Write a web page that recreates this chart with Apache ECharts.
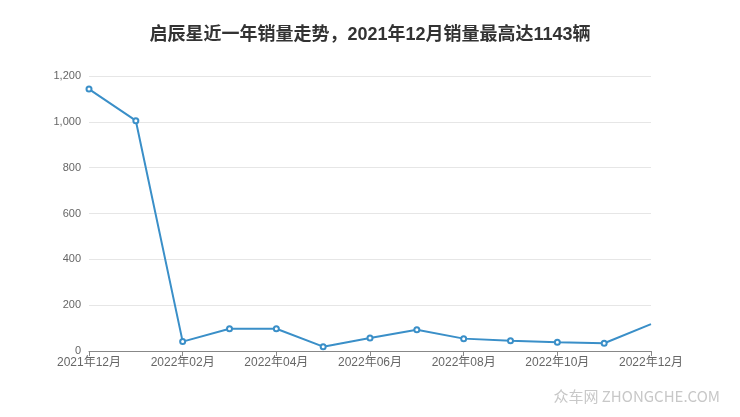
<!DOCTYPE html>
<html><head><meta charset="utf-8">
<script src="https://cdn.jsdelivr.net/npm/echarts@6/dist/echarts.min.js"></script>
<style>html,body{margin:0;padding:0;background:#fff}#c{width:740px;height:417px}</style>
</head><body><div id="c"></div>
<script>
const titleText = '启辰星近一年销量走势，2021年12月销量最高达1143辆';
const months = ['2021年12月','2022年01月','2022年02月','2022年03月','2022年04月','2022年05月','2022年06月','2022年07月','2022年08月','2022年09月','2022年10月','2022年11月','2022年12月'];
const sales = [1143, 1005, 41, 97, 97, 19, 57, 93, 54, 45, 38, 34, 117];
const yTicks = [0, 200, 400, 600, 800, 1000, 1200];

const chart = echarts.init(document.getElementById('c'));
chart.setOption({
  animation: false,
  title: {
    text: titleText, left: 'center', top: 21,
    textStyle: {fontSize: 18, fontWeight: 'bold', color: '#333', fontFamily: '"Liberation Sans", "Noto Sans CJK SC"'}
  },
  graphic: [{
    type: 'text', right: 20, top: 389,
    style: {text: '众车网 ZHONGCHE.COM', fill: '#c8c8c8', fontSize: 15, fontFamily: '"Noto Sans CJK SC"'}
  }],
  grid: {left: 89, right: 89, top: 76, bottom: 66},
  xAxis: {
    type: 'category', data: months, boundaryGap: false,
    axisLine: {lineStyle: {color: '#888'}},
    axisTick: {interval: 1, lineStyle: {color: '#888'}},
    axisLabel: {interval: 1, color: '#666', fontSize: 12, fontFamily: '"Liberation Sans", "Noto Sans CJK SC"', margin: 6}
  },
  yAxis: {
    type: 'value', min: yTicks[0], max: yTicks[yTicks.length - 1], interval: 200,
    axisLine: {show: false}, axisTick: {show: false},
    axisLabel: {color: '#666', fontSize: 11, margin: 8, fontFamily: '"Liberation Sans"', formatter: v => v.toLocaleString('en-US')},
    splitLine: {lineStyle: {color: '#e6e6e6'}}
  },
  series: [{
    type: 'line', data: sales,
    symbol: (v, p) => p.dataIndex === sales.length - 1 ? 'none' : 'emptyCircle',
    symbolSize: 5,
    lineStyle: {color: '#3a8fc8', width: 2},
    itemStyle: {color: '#3a8fc8', borderWidth: 1.5}
  }]
});
</script></body></html>
